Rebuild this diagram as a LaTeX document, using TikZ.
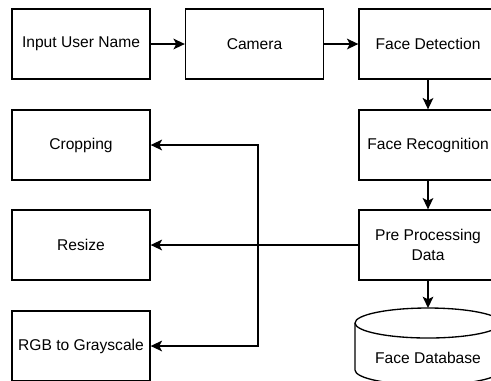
\documentclass[tikz,border=0pt]{standalone}
\usepackage{fontspec}
\setmainfont{Liberation Sans}
\usetikzlibrary{arrows.meta}

\begin{document}
\begin{tikzpicture}[x=0.75pt,y=-0.75pt,
    caja/.style={draw,line width=1pt,minimum width=103.5pt,minimum height=52.5pt,
        inner sep=0pt,align=center,font=\fontsize{11.7}{15.5}\selectfont},
    flecha/.style={line width=1pt,-{Stealth[length=8.5pt,width=8pt,inset=2pt]}}]

    % Marco
    \useasboundingbox (0,0) rectangle (491,380);
    \clip (0,0) rectangle (491,380);

    % Cajas
    \node[caja] (user)   at (81,44)    {Input User Name};
    \node[caja] (camera) at (254.5,44) {Camera};
    \node[caja] (detect) at (428,44)   {Face Detection};
    \node[caja] (recog)  at (428,145)  {Face Recognition};
    \node[caja] (prep)   at (428,245)  {Pre Processing\\Data};
    \node[caja] (crop)   at (81,145)   {Cropping};
    \node[caja] (resize) at (81,245)   {Resize};
    \node[caja] (rgb)    at (81,346)   {RGB to Grayscale};

    % Cilindro
    \draw[line width=1pt] (428,323) ellipse [x radius=54.75pt,y radius=11.25pt];
    \draw[line width=1pt] (355,323) -- (355,370)
        arc[start angle=180,end angle=360,x radius=54.75pt,y radius=11.25pt] -- (501,323);
    \node[font=\fontsize{11.7}{15.5}\selectfont] (db) at (428,358) {Face Database};
    \coordinate (dbtop) at (428,308);

    % Flechas
    \draw[flecha] (user) -- (camera);
    \draw[flecha] (camera) -- (detect);
    \draw[flecha] (detect) -- (recog);
    \draw[flecha] (recog) -- (prep);
    \draw[flecha] (prep) -- (dbtop);
    \draw[flecha] (prep) -- (resize);
    \coordinate (bus) at (258,245);
    \foreach \n in {crop,rgb}
    \draw[flecha] (bus) |- (\n);
\end{tikzpicture}
\end{document}
